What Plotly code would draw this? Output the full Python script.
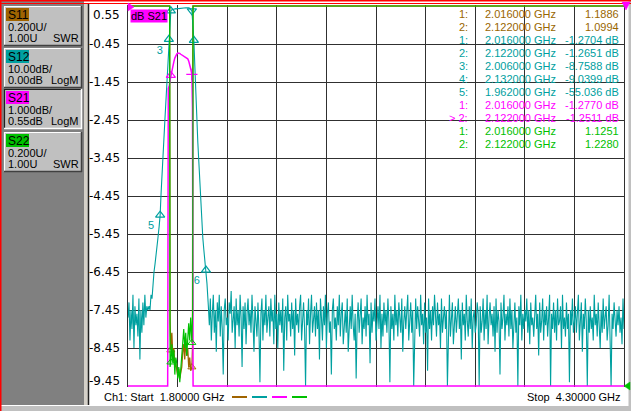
import numpy as np
import plotly.graph_objects as go

# channel 1 sweep (GHz)
f_start, f_stop = 1.80, 4.30

# S12  LogM 10 dB/div, ref 0 dB at top
s12_low_db = [  # 1.800 .. 1.900 GHz
    -82, -78, -88, -80, -85, -76, -90, -79, -84, -81,
    -87, -77, -93, -80, -86, -78, -84, -76, -82, -79, -80,
]
s12_edge_f = [1.906, 1.911, 1.916, 1.921, 1.926, 1.931, 1.936, 1.941, 1.946, 1.951,
              1.957, 1.962, 1.967, 1.972, 1.976, 1.981, 1.986, 1.991, 1.996, 2.001,
              2.006, 2.011, 2.016, 2.021, 2.026, 2.031, 2.036, 2.041, 2.046, 2.051,
              2.056, 2.061, 2.066, 2.071, 2.076, 2.081, 2.086, 2.091, 2.096, 2.101,
              2.106, 2.111, 2.116, 2.122, 2.127, 2.132, 2.137, 2.142, 2.147, 2.152,
              2.157, 2.162, 2.167, 2.172, 2.177, 2.182, 2.187, 2.193, 2.198]
s12_edge_db = [-79, -80, -76, -77, -72, -70, -68, -66, -64, -61,
               -58, -55.036, -49, -45, -40.5, -35, -30, -25, -19, -13,
               -8.7588, -3.6, -1.2704, -1.0, -0.9, -0.8, -0.85, -0.7, -0.75, -0.6,
               -0.7, -0.65, -0.55, -0.6, -0.5, -0.6, -0.55, -0.45, -0.5, -0.4,
               -0.5, -0.6, -0.8, -1.2651, -5.2, -9.0399, -16, -24, -31, -36,
               -41, -47, -52, -57, -61, -64, -67, -69.5, -73]
s12_high_db = [  # 2.205 .. 4.300 GHz
    -79, -84, -77, -88, -81, -76, -86, -80, -91, -78,
    -83, -76, -87, -79, -85, -97, -80, -77, -84, -82,
    -88, -78, -81, -75, -86, -83, -79, -90, -77, -84,
    -80, -87, -76, -82, -95, -79, -85, -78, -89, -81,
    -77, -84, -80, -86, -76, -83, -91, -79, -82, -87,
    -78, -85, -99, -81, -77, -88, -80, -84, -76, -86,
    -82, -79, -87, -77, -83, -80, -89, -76, -85, -81,
    -90, -78, -84, -80, -86, -77, -96, -82, -79, -88,
    -76, -83, -81, -87, -78, -85, -80, -92, -77, -84,
    -81, -86, -79, -76, -88, -82, -78, -85, -100, -80,
    -84, -77, -89, -81, -76, -86, -83, -79, -87, -78,
    -85, -80, -93, -77, -82, -88, -79, -84, -76, -90,
    -81, -78, -86, -83, -97, -80, -77, -85, -82, -88,
    -79, -84, -76, -87, -81, -78, -89, -83, -80, -86,
    -77, -91, -82, -79, -85, -76, -84, -88, -81, -98,
    -83, -78, -86, -80, -77, -89, -82, -85, -79, -87,
    -76, -84, -81, -94, -78, -86, -80, -83, -77, -88,
    -82, -79, -85, -76, -90, -81, -87, -78, -84, -80,
    -86, -77, -83, -99, -79, -85, -81, -88, -76, -84,
    -80, -87, -78, -82, -86, -77, -91, -83, -79, -85,
    -81, -76, -88, -84, -78, -86, -80, -100, -82, -77,
    -85, -79, -83, -87, -76, -84, -81, -89, -78, -86,
    -82, -96, -77, -85, -80, -88, -79, -84, -76, -83,
    -87, -78, -84, -81, -90, -77, -86, -82, -79, -85,
    -80, -100, -83, -76, -87, -81, -78, -89, -84, -79,
    -86, -82, -77, -85, -80, -93, -78, -84, -81, -88,
    -76, -83, -87, -79, -85, -77, -90, -82, -80, -86,
    -84, -78, -81, -100, -79, -86, -83, -77, -88, -80,
    -85, -76, -89, -82, -78, -84, -81, -87, -79, -91,
    -77, -86, -80, -83, -97, -78, -85, -82, -76, -88,
    -81, -84, -79, -87, -77, -85, -80, -90, -83, -78,
    -86, -82, -100, -79, -84, -76, -88, -81, -85, -80,
    -83, -77, -86, -80, -89, -78, -84, -82, -87, -79,
    -76, -85, -81, -92, -78, -86, -83, -77, -88, -80,
    -84, -79, -87, -82, -76, -100, -81, -85, -78, -86,
    -80, -88, -77, -84, -83, -79, -90, -76, -85, -82,
    -87, -78, -85, -81, -99, -80, -84, -77, -86, -83,
    -79, -86, -82, -76, -88, -84, -78, -91, -81, -85,
    -77, -83, -100, -80, -86, -79, -85, -82, -88, -76,
    -84, -81, -87, -78, -83, -90, -80, -86, -77, -85,
    -82, -79, -88, -84, -76, -86, -100, -81, -85, -78,
    -83, -87, -80, -84, -79, -86, -82, -89, -77, -85,
]

# S21  LogM 1 dB/div, ref 0.55 dB at top (off-scale points sit on the bottom line)
s21_f = [1.800, 2.000, 2.003, 2.008, 2.012, 2.016, 2.021, 2.026, 2.031, 2.036,
         2.041, 2.046, 2.051, 2.056, 2.061, 2.066, 2.071, 2.076, 2.081, 2.086,
         2.091, 2.096, 2.101, 2.106, 2.111, 2.116, 2.122, 2.125, 2.128, 4.300]
s21_db = [-9.45, -9.45, -1.62, -1.55, -1.40, -1.277, -1.20, -1.05, -0.92, -0.82,
          -0.76, -0.71, -0.69, -0.69, -0.70, -0.72, -0.74, -0.76, -0.77, -0.79,
          -0.80, -0.82, -0.84, -0.90, -0.98, -1.10, -1.2511, -2.11, -9.45, -9.45]

# S11 / S22  SWR 0.2 U/div, ref 1.00 U at bottom (off-scale points sit on the top line)
s11_f = [1.800, 2.010, 2.012, 2.014, 2.016, 2.021, 2.026, 2.031, 2.036, 2.041,
         2.046, 2.051, 2.056, 2.061, 2.066, 2.071, 2.076, 2.081, 2.086, 2.091,
         2.096, 2.101, 2.106, 2.111, 2.116, 2.122, 2.125, 2.127, 4.300]
s11_swr = [3.0, 3.0, 1.34, 1.22, 1.1886, 1.28, 1.15, 1.20, 1.10, 1.12,
           1.08, 1.05, 1.09, 1.04, 1.07, 1.10, 1.18, 1.22, 1.14, 1.25,
           1.16, 1.20, 1.10, 1.15, 1.08, 1.0994, 1.20, 3.0, 3.0]
s22_f = [1.800, 2.010, 2.012, 2.016, 2.021, 2.026, 2.031, 2.036, 2.041, 2.046,
         2.051, 2.056, 2.061, 2.066, 2.071, 2.076, 2.081, 2.086, 2.091, 2.096,
         2.101, 2.106, 2.111, 2.116, 2.122, 2.126, 2.128, 4.300]
s22_swr = [3.0, 3.0, 1.10, 1.1251, 1.22, 1.12, 1.19, 1.06, 1.15, 1.12,
           1.04, 1.10, 1.02, 1.08, 1.14, 1.22, 1.30, 1.20, 1.28, 1.16,
           1.25, 1.33, 1.24, 1.36, 1.228, 1.40, 3.0, 3.0]

# marker table
mk_trace = ["S11", "S11", "S12", "S12", "S12", "S12", "S12", "S21", "S21", "S22", "S22"]
mk_no = ["1:", "2:", "1:", "2:", "3:", "4:", "5:", "1:", "> 2:", "1:", "2:"]
mk_freq = [2.016, 2.122, 2.016, 2.122, 2.006, 2.132, 1.962, 2.016, 2.122, 2.016, 2.122]
mk_val = [1.1886, 1.0994, -1.2704, -1.2651, -8.7588, -9.0399, -55.036, -1.2770, -1.2511, 1.1251, 1.2280]
s12_mk6 = (2.193, -69.5)

# left panel: trace, scale, reference, format
ch_names = ["S11", "S12", "S21", "S22"]
ch_scale = ["0.200U/", "10.00dB/", "1.000dB/", "0.200U/"]
ch_ref = ["1.00U", "0.00dB", "0.55dB", "1.00U"]
ch_fmt = ["SWR", "LogM", "LogM", "SWR"]

COL = {"S11": "#a06400", "S12": "#00a0a0", "S21": "#ff00ff", "S22": "#00c000"}
TXT = {"S11": "#996600", "S12": "#00a0a0", "S21": "#ff00ff", "S22": "#00c000"}
FONT = "Liberation Sans, Arial, sans-serif"

W, H = 631, 411
L, R, T, B = 128, 624, 5, 387  # plot area in px


def px(x):
    return (x - L) / (R - L)


def py(y):
    return (B - y) / (B - T)


def div_range(top, per_div):
    pad = per_div / 38.0  # one pixel
    return [top - 10 * per_div - pad, top + pad]


s12_f = list(np.linspace(1.80, 1.90, len(s12_low_db))) + s12_edge_f + \
    list(np.linspace(2.205, f_stop, len(s12_high_db)))
s12_db = s12_low_db + s12_edge_db + s12_high_db

fig = go.Figure()
fig.add_trace(go.Scatter(x=s11_f, y=s11_swr, yaxis="y", mode="lines",
                         line=dict(color=COL["S11"], width=1.3)))
fig.add_trace(go.Scatter(x=s12_f, y=s12_db, yaxis="y2", mode="lines",
                         line=dict(color=COL["S12"], width=1.1)))

# S12 markers
s12_idx = [i for i, t in enumerate(mk_trace) if t == "S12"]
m_x = [mk_freq[i] for i in s12_idx] + [s12_mk6[0]]
m_y = [mk_val[i] for i in s12_idx] + [s12_mk6[1]]
m_sym = ["triangle-up-open", "triangle-down-open", "triangle-up-open",
         "triangle-up-open", "triangle-up-open", "triangle-up-open"]
m_txt = ["", "", "3", "", "5", "6"]
fig.add_trace(go.Scatter(x=m_x, y=m_y, yaxis="y2", mode="markers+text",
                         marker=dict(symbol=m_sym, size=8, color=COL["S12"],
                                     line=dict(width=1.2, color=COL["S12"])),
                         text=m_txt, textposition="bottom left",
                         textfont=dict(family=FONT, size=11, color=COL["S12"])))

fig.add_trace(go.Scatter(x=s21_f, y=s21_db, yaxis="y3", mode="lines",
                         line=dict(color=COL["S21"], width=1.5)))
s21_idx = [i for i, t in enumerate(mk_trace) if t == "S21"]
fig.add_trace(go.Scatter(x=[mk_freq[i] for i in s21_idx], y=[mk_val[i] for i in s21_idx],
                         yaxis="y3", mode="markers",
                         marker=dict(symbol=["triangle-up-open", "cross-thin-open"], size=8,
                                     color=COL["S21"], line=dict(width=1.2, color=COL["S21"]))))

fig.add_trace(go.Scatter(x=s22_f, y=s22_swr, yaxis="y4", mode="lines",
                         line=dict(color=COL["S22"], width=1.2)))
for t, ax in (("S11", "y"), ("S22", "y4")):
    idx = [i for i, tt in enumerate(mk_trace) if tt == t]
    fig.add_trace(go.Scatter(x=[mk_freq[i] for i in idx], y=[mk_val[i] for i in idx],
                             yaxis=ax, mode="markers",
                             marker=dict(symbol="triangle-up-open", size=7, color=COL[t],
                                         line=dict(width=1, color=COL[t]))))

grid = "#303030"
fig.update_layout(
    width=W, height=H,
    margin=dict(l=L, r=W - R, t=T, b=H - B, pad=0),
    paper_bgcolor="white", plot_bgcolor="white",
    showlegend=False,
    xaxis=dict(range=[f_start, f_stop], tickvals=[f_start + 0.25 * k for k in range(11)],
               showticklabels=False, ticks="", showgrid=True, gridcolor=grid, gridwidth=1,
               zeroline=False, showline=False, fixedrange=True),
    yaxis=dict(range=div_range(3.0, 0.2), tickvals=[1.0 + 0.2 * k for k in range(11)],
               showticklabels=False, ticks="", showgrid=True, gridcolor=grid, gridwidth=1,
               zeroline=False, showline=True, mirror=True, linecolor=grid, linewidth=1.2),
    yaxis2=dict(range=div_range(0.0, 10.0), overlaying="y", visible=False),
    yaxis3=dict(range=div_range(0.55, 1.0), overlaying="y", visible=False),
    yaxis4=dict(range=div_range(3.0, 0.2), overlaying="y", visible=False),
)

shapes = []
ann = []


def rect(x0, y0, x1, y1, fill, lw=0, lc=None):
    shapes.append(dict(type="rect", xref="paper", yref="paper",
                       x0=px(x0), x1=px(x1), y0=py(y1), y1=py(y0),
                       fillcolor=fill, line=dict(width=lw, color=lc or fill), layer="above"))


def seg(x0, y0, x1, y1, color, w=1):
    shapes.append(dict(type="line", xref="paper", yref="paper",
                       x0=px(x0), x1=px(x1), y0=py(y0), y1=py(y1),
                       line=dict(color=color, width=w), layer="above"))


def tri(pts, color):
    path = "M " + " L ".join(f"{px(a)},{py(b)}" for a, b in pts) + " Z"
    shapes.append(dict(type="path", xref="paper", yref="paper", path=path,
                       fillcolor=color, line=dict(color=color, width=0.5), layer="above"))


def text(x, y, s, color="black", anchor="left", size=11, family=FONT, bg=None):
    ann.append(dict(xref="paper", yref="paper", x=px(x), y=py(y), text=s,
                    showarrow=False, xanchor=anchor, yanchor="middle",
                    font=dict(family=family, size=size, color=color),
                    bgcolor=bg, borderpad=0))


# left panel
rect(0, 0, 84, 411, "#808080")
rect(84, 4, 88, 405, "#d4d0c8")
seg(88.5, 4, 88.5, 405, "#202020", 1.5)
rect(0, 405, 631, 411, "#c0c0c0")
seg(0, 405.5, 631, 405.5, "white", 1)
rect(628.5, 0, 631, 411, "#c0c0c0")

btn_y = [6, 48, 89, 132]
for k, name in enumerate(ch_names):
    y0 = btn_y[k]
    y1 = y0 + 40
    rect(4, y0, 82, y1, "#c0c0c0")
    hi, lo = ("white", "#404040") if name != "S21" else ("#202020", "white")
    seg(4, y0 + 0.5, 82, y0 + 0.5, hi, 1.2)
    seg(4.5, y0, 4.5, y1, hi, 1.2)
    seg(4, y1 - 0.5, 82, y1 - 0.5, lo, 1.5)
    seg(81.5, y0, 81.5, y1, lo, 1.5)
    rect(6, y0 + 2, 29, y0 + 15, COL[name])
    text(7, y0 + 9, name, size=12)
    text(6.5, y0 + 21, ch_scale[k], size=11)
    text(6.5, y0 + 32, ch_ref[k], size=11)
    text(80, y0 + 32, ch_fmt[k], size=11, anchor="right")

# top border
seg(0, 0.75, 631, 0.75, "#ff0000", 1.5)
seg(0, 3.5, 631, 3.5, "#ff0000", 1)
seg(0.75, 0, 0.75, 411, "#ff0000", 1.5)

# reference / marker arrows on the frame
tri([(128, 3), (134, 7), (128, 11)], COL["S21"])
tri([(622, 2), (630, 2), (626, 10)], COL["S21"])
tri([(630, 382), (624, 386), (630, 390)], COL["S22"])

# y scale labels (S21 scale)
for k in range(11):
    v = 0.55 - k
    shift = -9 if k == 0 else (5 if k == 10 else 0)
    ann.append(dict(xref="paper", yref="y3", x=0, y=v, text=f"{v:.2f}",
                    showarrow=False, xanchor="right", yanchor="middle",
                    xshift=-6, yshift=shift,
                    font=dict(family="DejaVu Sans, sans-serif", size=12, color="black")))

# active trace label
text(130, 16.5, "dB S21", size=11, bg=COL["S21"])

# marker table
for k in range(len(mk_trace)):
    y = 14 + 13 * k
    c = TXT[mk_trace[k]]
    v = mk_val[k]
    vs = f"{v:#.5g}" + (" dB" if mk_trace[k] in ("S12", "S21") else "")
    text(469, y, mk_no[k], c, "right")
    text(557, y, f"{mk_freq[k]:.6f} GHz", c, "right")
    text(620, y, vs, c, "right")

# bottom status line
text(103, 397, "Ch1: Start\u00a0\u00a01.80000 GHz")
text(622, 397, "Stop\u00a0\u00a04.30000 GHz", anchor="right")
for k, name in enumerate(ch_names):
    x0 = 232 + 20 * k
    seg(x0, 397, x0 + 15, 397, COL[name], 2)

fig.update_layout(shapes=shapes, annotations=ann)

fig.write_html("out.html", config={"displayModeBar": False, "staticPlot": True},
               post_script="document.body.style.margin='0';document.body.style.overflow='hidden';")
